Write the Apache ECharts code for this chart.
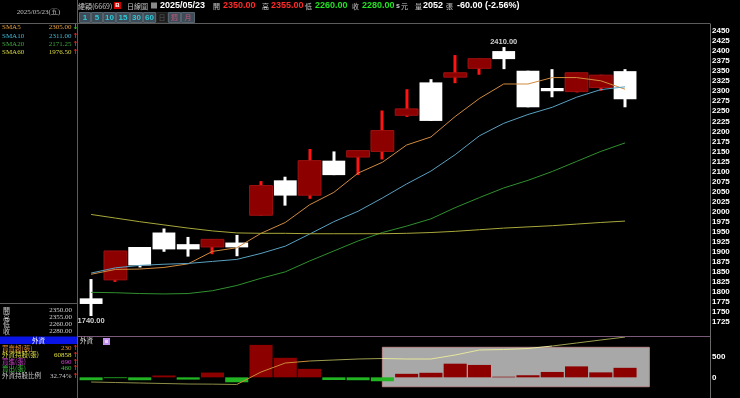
<!DOCTYPE html>
<html><head><meta charset="utf-8">
<script src="https://cdn.jsdelivr.net/npm/echarts@6/dist/echarts.min.js"></script>
<style>html,body{margin:0;padding:0;background:#000;}#c{width:740px;height:398px;}</style>
</head><body><div id="c"></div>
<script>
// ---------- data ----------
const dates = ['04/22','04/23','04/24','04/25','04/28','04/29','04/30','05/02','05/05','05/06','05/07','05/08','05/09','05/12','05/13','05/14','05/15','05/16','05/19','05/20','05/21','05/22','05/23'];
const padSlots = ['p1','p2','p3'];
const opens  = [1784,1830,1912,1948,1919,1912,1923,1991,2078,2041,2127,2136,2150,2240,2322,2335,2357,2400,2351,2308,2299,2309,2350];
const closes = [1770,1902,1866,1906,1906,1931,1911,2065,2040,2127,2091,2152,2202,2256,2226,2346,2381,2380,2260,2300,2346,2340,2280];
const lows   = [1740,1825,1861,1900,1888,1894,1889,1990,2015,2032,2091,2091,2130,2236,2226,2320,2341,2355,2260,2285,2297,2301,2260];
const highs  = [1832,1902,1912,1958,1937,1931,1942,2076,2087,2156,2150,2152,2252,2305,2330,2390,2381,2410,2351,2355,2346,2341,2355];
const ma5  = [1844,1856,1857,1861,1870,1901,1910,1946,1973,2017,2048,2096,2123,2166,2186,2237,2282,2318,2318,2334,2334,2326,2305];
const ma10 = [1847,1860,1866,1869,1871,1876,1881,1896,1914,1944,1975,2001,2034,2069,2101,2142,2189,2220,2242,2260,2285,2304,2311];
const ma20 = [1799,1798,1796,1795,1796,1803,1816,1834,1850,1877,1902,1927,1948,1964,1982,2010,2035,2059,2078,2100,2125,2150,2171.25];
const ma60 = [1993,1984,1975,1967,1959,1952,1947,1946,1946,1945,1945,1945,1945,1946,1948,1951,1955,1959,1962,1965,1969,1973,1976.5];
const netBuy   = [-70,-20,-70,45,-55,115,-120,785,472,205,-65,-70,-95,85,110,330,300,15,50,130,265,120,230];
const holdings = [59060,59040,59020,59000,58980,58975,58960,59460,59820,59900,59940,59980,60000,59980,59980,60140,60340,60360,60400,60500,60620,60740,60858];
const highlightBox = [[12, 726, 23, -227]]; // [fromIdx, topValue, toIdx, bottomValue] in volume-panel data units
const priceTicks = {min:1700, max:2475, step:25};
const volTicks = {min:-500, max:1000, step:500};
const dayVolume = '2052';
const foreignRows = [
  ['買賣超(張)','230','#e8902e'],
  ['外資持股(張)','60858','#e0e040'],
  ['買進(張)','690','#d040d0'],
  ['賣出(張)','460','#40c040'],
  ['外資持股比例','32.74%','#c8c8c8']
];
const periodButtons = ['1','5','10','15','30','60','日','週','月'];

// ---------- helpers ----------
const CJK = '"Noto Sans CJK TC"';
function txt(x, y, s, color, size, opt) {
  opt = opt || {};
  return {type:'text', x:x, y:y, silent:true, z:100,
    style:{text:s, fill:color, font:(opt.bold?'bold ':'')+size+'px '+(opt.family||'Liberation Sans'),
      textAlign:opt.align||'left', textVerticalAlign:'middle'}};
}
function rect(x,y,w,h,fill,stroke){ return {type:'rect', silent:true, z:90, shape:{x:x,y:y,width:w,height:h}, style:{fill:fill, stroke:stroke||null, lineWidth:1}}; }
function line(x1,y1,x2,y2,color){ return {type:'line', silent:true, z:95, shape:{x1:x1,y1:y1,x2:x2,y2:y2}, style:{stroke:color, lineWidth:1}}; }

const n = dates.length;
const last = n-1;
const cats = dates.concat(padSlots);
const candleData = dates.map((d,i)=>[i, opens[i], closes[i], lows[i], highs[i]]);
const hiVal = Math.max.apply(null, highs), hiIdx = highs.indexOf(hiVal);
const loVal = Math.min.apply(null, lows), loIdx = lows.indexOf(loVal);
const chg = closes[last]-closes[last-1];
const chgPct = chg/closes[last-1]*100;

function renderCandle(params, api) {
  const i = api.value(0), o = api.value(1), c = api.value(2), l = api.value(3), h = api.value(4);
  const pO = api.coord([i,o]), pC = api.coord([i,c]), pL = api.coord([i,l]), pH = api.coord([i,h]);
  const w = api.size([1,0])[0]*0.94;
  const up = c > o;
  const top = Math.min(pO[1],pC[1]), bot = Math.max(pO[1],pC[1]);
  const cx = Math.round(pO[0]);
  return {type:'group', children:[
    {type:'rect', shape:{x:cx-1.5, y:pH[1], width:3, height:Math.max(pL[1]-pH[1],1)}, style:{fill: up?'#ff1414':'#ffffff'}},
    {type:'rect', shape:{x:pO[0]-w/2, y:top, width:w, height:Math.max(bot-top,2)}, style:{fill: up?'#8c0000':'#ffffff', stroke: up?'#a01010':null, lineWidth:1}}
  ]};
}
function renderBox(params, api) {
  const p1 = api.coord([api.value(0), api.value(1)]);
  const p2 = api.coord([api.value(2), api.value(3)]);
  return {type:'rect', shape:{x:p1[0], y:p1[1], width:p2[0]-p1[0], height:p2[1]-p1[1]},
    style:{fill:'#a8a8a8', stroke:'#b88a8a', lineWidth:1}};
}

// ---------- graphics (panels / header) ----------
const g = [];
g.push(line(77.5,0,77.5,398,'#5c5c5c'));
g.push(line(0,23.5,710,23.5,'#5c5c5c'));
g.push(line(710.5,23.5,710.5,398,'#6a6a6a'));
g.push(line(78,336.5,710,336.5,'#7a5a78'));
g.push(line(0,303.5,77,303.5,'#5c5c5c'));
g.push(txt(38.5,12,'2025/05/23(五)','#c0c0c0',7,{align:'center',family:'"Liberation Serif"'}));
g.push(txt(78,6,'緯穎(6669)','#c8c8c8',7,{family:CJK}));
g.push(rect(114,2,7,7,'#d00000'));
g.push(txt(117.5,5.8,'B','#ffffff',6,{align:'center',bold:true}));
g.push(txt(127,6,'日線圖','#c8c8c8',7,{family:CJK}));
g.push(rect(151,2.5,6,6,'#8a8a8a'));
g.push(txt(160,6,'2025/05/23','#ffffff',9,{bold:true}));
g.push(txt(213,6,'開','#c8c8c8',7,{family:CJK}));
g.push(txt(223,6,opens[last].toFixed(2),'#ff2a2a',9,{bold:true}));
g.push(txt(262,6,'高','#c8c8c8',7,{family:CJK}));
g.push(txt(271,6,highs[last].toFixed(2),'#ff2a2a',9,{bold:true}));
g.push(txt(305,6,'低','#c8c8c8',7,{family:CJK}));
g.push(txt(315,6,lows[last].toFixed(2),'#22e022',9,{bold:true}));
g.push(txt(352,6,'收','#c8c8c8',7,{family:CJK}));
g.push(txt(362,6,closes[last].toFixed(2),'#22e022',9,{bold:true}));
g.push(txt(396,6,'s','#c8c8c8',7,{bold:true}));
g.push(txt(401,6,'元','#c8c8c8',7,{family:CJK}));
g.push(txt(415,6,'量','#c8c8c8',7,{family:CJK}));
g.push(txt(423,6,dayVolume,'#ffffff',9,{bold:true}));
g.push(txt(446,6,'張','#c8c8c8',7,{family:CJK}));
g.push(txt(457,6,chg.toFixed(2)+' ('+chgPct.toFixed(2)+'%)','#ffffff',9,{bold:true}));
const btnEdges = [79,91,103,116,130,143,156,168,181,195];
periodButtons.forEach((b,i)=>{
  const x0 = btnEdges[i], x1 = btnEdges[i+1];
  const sel = b==='日';
  const num = /\d/.test(b);
  g.push(rect(x0+0.5,12.5,x1-x0-1,10, sel?'#1c1c1c':'#3e4c58', sel?'#2a2a2a':'#56646f'));
  const col = sel ? '#5a5a5a' : (num ? '#2ec8d8' : '#c0587a');
  g.push(txt((x0+x1)/2,17.5,b,col,num?8:7,{align:'center',bold:num,family:num?'Liberation Sans':CJK}));
});
const maLegend = [['SMA5',ma5,'#e8a040'],['SMA10',ma10,'#40b8d8'],['SMA20',ma20,'#40a840'],['SMA60',ma60,'#d8d840']];
const maY = [27.5,36,44,52];
maLegend.forEach((m,i)=>{
  const arr = m[1];
  const upArrow = arr[last] >= arr[last-1];
  g.push(txt(2,maY[i],m[0],m[2],7,{family:'"Liberation Serif"'}));
  g.push(txt(71.5,maY[i],arr[last].toFixed(2),m[2],7,{align:'right',family:'"Liberation Serif"'}));
  g.push(txt(72.5,maY[i],upArrow?'↑':'↓',upArrow?'#ff2020':'#20d020',7,{bold:true,family:'"DejaVu Sans"'}));
});
const ohlc = [['開',opens[last]],['高',highs[last]],['低',lows[last]],['收',closes[last]]];
const ohY = [310,317,324,331];
ohlc.forEach((r,i)=>{
  g.push(txt(3,ohY[i],r[0],'#d0d0d0',7,{family:CJK}));
  g.push(txt(72,ohY[i],r[1].toFixed(2),'#d0d0d0',7,{align:'right',family:'"Liberation Serif"'}));
});
g.push(rect(0,336.5,77,7.5,'#0a14e6'));
g.push(txt(38.5,340.3,'外資','#ffffff',6.5,{align:'center',family:CJK}));
const frY = [348.5,355,361.7,368.3,375.7];
foreignRows.forEach((r,i)=>{
  g.push(txt(2,frY[i],r[0],r[2],6.5,{family:CJK}));
  g.push(txt(71.5,frY[i],r[1],r[2],7,{align:'right',family:'"Liberation Serif"'}));
  g.push(txt(72.5,frY[i],'↑','#ff2020',7,{bold:true,family:'"DejaVu Sans"'}));
});
g.push(txt(80,341,'外資','#e0e0e0',6.5,{family:CJK}));
g.push(rect(103,338,7,7,'#c090f0'));
g.push(rect(105,340,3,3,'#e8d0ff'));

const axisLabelStyle = {color:'#ffffff', fontSize:8, fontWeight:'bold', fontFamily:'Liberation Sans', margin:2,
  showMinLabel:false, showMaxLabel:false, formatter:(v)=>String(v)};

const option = {
  backgroundColor:'#000000',
  animation:false,
  grid:[
    {left:79, right:30, top:20.97, height:311.1},
    {left:79, right:30, top:336, height:62}
  ],
  xAxis:[
    {type:'category', gridIndex:0, data:cats, show:false, boundaryGap:true},
    {type:'category', gridIndex:1, data:cats, show:false, boundaryGap:true}
  ],
  yAxis:[
    {type:'value', gridIndex:0, position:'right', min:priceTicks.min, max:priceTicks.max, interval:priceTicks.step,
      axisLine:{show:false}, axisTick:{show:false}, splitLine:{show:false}, axisLabel:axisLabelStyle},
    {type:'value', gridIndex:1, position:'right', min:volTicks.min, max:volTicks.max, interval:volTicks.step,
      axisLine:{show:false}, axisTick:{show:false}, splitLine:{show:false}, axisLabel:axisLabelStyle},
    {type:'value', gridIndex:1, min:58420, max:60900, show:false}
  ],
  visualMap:[{type:'piecewise', show:false, seriesIndex:8, dimension:0,
    pieces:[{lte:6,color:'#8e8e46'},{gt:6,lte:9,color:'#cc8a38'},{gt:9,lte:12,color:'#9c9c50'},{gt:12,lte:19,color:'#e6e69c'},{gt:19,color:'#9c9c50'}]}],
  graphic:{elements:g},
  series:[
    {type:'custom', name:'K', xAxisIndex:0, yAxisIndex:0, data:candleData, renderItem:renderCandle, encode:{x:0,y:[1,2,3,4]}, z:2, silent:true},
    {type:'line', name:'SMA5', xAxisIndex:0, yAxisIndex:0, data:ma5, symbol:'none', lineStyle:{width:1,color:'#d08a40'}, z:3, silent:true},
    {type:'line', name:'SMA10', xAxisIndex:0, yAxisIndex:0, data:ma10, symbol:'none', lineStyle:{width:1,color:'#5aa0c0'}, z:3, silent:true},
    {type:'line', name:'SMA20', xAxisIndex:0, yAxisIndex:0, data:ma20, symbol:'none', lineStyle:{width:1,color:'#30902f'}, z:3, silent:true},
    {type:'line', name:'SMA60', xAxisIndex:0, yAxisIndex:0, data:ma60, symbol:'none', lineStyle:{width:1,color:'#a8a83a'}, z:3, silent:true},
    {type:'scatter', xAxisIndex:0, yAxisIndex:0, symbolSize:0, z:4, silent:true,
      data:[{value:[hiIdx,hiVal], label:{position:'top', distance:1}}, {value:[loIdx,loVal], label:{position:'bottom', distance:1}}],
      label:{show:true, color:'#ffffff', fontSize:7.5, fontWeight:'bold', fontFamily:'Liberation Sans', formatter:(p)=>p.value[1].toFixed(2)}},
    {type:'custom', name:'box', xAxisIndex:1, yAxisIndex:1, data:highlightBox, renderItem:renderBox, encode:{x:[0,2],y:[1,3]}, z:1, silent:true},
    {type:'bar', name:'外資', xAxisIndex:1, yAxisIndex:1, data:netBuy, barCategoryGap:'5%', z:2, silent:true,
      itemStyle:{color:(p)=> p.value>=0 ? '#8c0000' : '#22b422'}},
    {type:'line', name:'外資持股', xAxisIndex:1, yAxisIndex:2, data:holdings, symbol:'none', lineStyle:{width:1}, z:3, silent:true}
  ]
};
const chart = echarts.init(document.getElementById('c'));
chart.setOption(option);
</script>
</body></html>
